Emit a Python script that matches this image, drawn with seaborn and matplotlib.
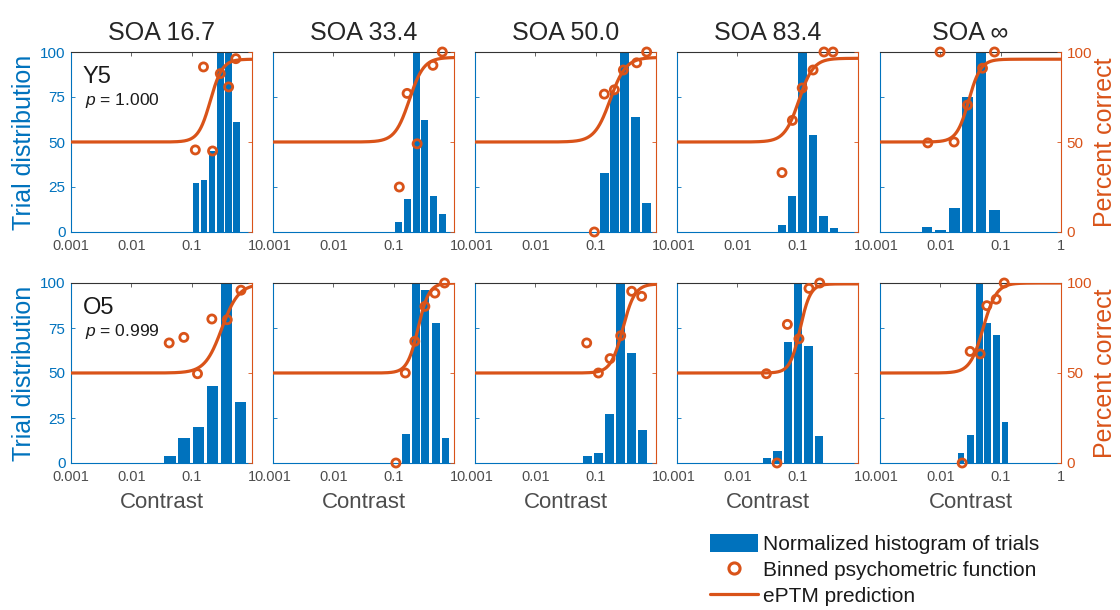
import numpy as np
import pandas as pd
import seaborn as sns
import matplotlib.pyplot as plt
from matplotlib.patches import Patch
from matplotlib.lines import Line2D
from matplotlib.ticker import NullLocator, FixedLocator, FixedFormatter

BLUE = '#0072BD'
ORANGE = '#D95319'
GREY = '#4d4d4d'

soa_titles = ['SOA 16.7', 'SOA 33.4', 'SOA 50.0', 'SOA 83.4', 'SOA \u221e']
observers = ['Y5', 'O5']
p_values = ['1.000', '0.999']
x_tick_values = [0.001, 0.01, 0.1, 1]
x_tick_labels = ['0.001', '0.01', '0.1', '1']

# normalized histogram of trials: bin centres (contrast) and heights
y5_bin_centers = [
    [0.119, 0.161, 0.219, 0.298, 0.41, 0.556],
    [0.121, 0.169, 0.235, 0.329, 0.458, 0.64],
    [0.139, 0.204, 0.303, 0.46, 0.70],
    [0.0547, 0.081, 0.12, 0.178, 0.268, 0.40],
    [0.006, 0.0101, 0.017, 0.0284, 0.0472, 0.0786],
]
y5_bin_heights = [
    [27, 29, 45, 100, 100, 61],
    [5.5, 18.6, 100, 62, 20, 10],
    [33, 77, 100, 64, 16],
    [3.7, 20, 100, 54, 8.7, 2.2],
    [2.6, 1.1, 13.5, 75, 100, 12],
]
o5_bin_centers = [
    [0.0438, 0.0747, 0.128, 0.221, 0.377, 0.644],
    [0.16, 0.233, 0.335, 0.495, 0.722],
    [0.0736, 0.111, 0.169, 0.261, 0.39, 0.597],
    [0.0308, 0.0463, 0.0687, 0.1007, 0.151, 0.226],
    [0.022, 0.0312, 0.044, 0.0613, 0.0849, 0.118],
]
o5_bin_heights = [
    [3.7, 14, 20, 43, 100, 34],
    [16, 100, 96, 78, 14],
    [4, 5.6, 27, 100, 61, 18.5],
    [2.8, 6.5, 67, 100, 65, 15],
    [5.6, 15.4, 100, 78, 71, 23],
]

# binned psychometric function (contrast, percent correct)
y5_pc_contrast = [
    [0.115, 0.157, 0.222, 0.298, 0.41, 0.54],
    [0.124, 0.167, 0.245, 0.447, 0.64],
    [0.095, 0.139, 0.204, 0.288, 0.479, 0.70],
    [0.055, 0.0817, 0.119, 0.18, 0.273, 0.385],
    [0.0062, 0.0099, 0.0169, 0.0282, 0.05, 0.079],
]
y5_pc_correct = [
    [45.6, 91.7, 45, 88, 80.6, 96.3],
    [25, 77, 49, 92.6, 100],
    [0, 76.6, 79, 90, 94, 100],
    [33, 62, 80, 90, 100, 100],
    [49.5, 100, 50, 70.5, 91, 100],
]
o5_pc_contrast = [
    [0.0424, 0.0742, 0.125, 0.216, 0.389, 0.656],
    [0.109, 0.156, 0.224, 0.329, 0.482, 0.698],
    [0.071, 0.111, 0.173, 0.26, 0.395, 0.578],
    [0.0303, 0.0454, 0.0675, 0.105, 0.154, 0.232],
    [0.023, 0.0312, 0.0457, 0.059, 0.0843, 0.1145],
]
o5_pc_correct = [
    [66.7, 69.8, 49.6, 80, 79.6, 96],
    [0, 50, 67.6, 87, 94.4, 100],
    [66.7, 50, 58, 70.7, 95.4, 92.6],
    [49.6, 0, 77, 69, 97, 100],
    [0, 62, 60.6, 87.4, 91, 100],
]

# ePTM prediction, described by threshold contrast, log-spread and upper asymptote
y5_threshold = [0.204, 0.182, 0.174, 0.105, 0.0295]
y5_spread = [0.10, 0.12, 0.13, 0.12, 0.10]
y5_top = [96, 97, 97, 96.5, 96]
o5_threshold = [0.316, 0.254, 0.282, 0.110, 0.0513]
o5_spread = [0.14, 0.09, 0.10, 0.085, 0.11]
o5_top = [99.5, 100, 99.5, 99.5, 100]

rows = [
    (y5_bin_centers, y5_bin_heights, y5_pc_contrast, y5_pc_correct,
     y5_threshold, y5_spread, y5_top),
    (o5_bin_centers, o5_bin_heights, o5_pc_contrast, o5_pc_correct,
     o5_threshold, o5_spread, o5_top),
]

sns.set_style('white')
plt.rcParams['font.family'] = ['Liberation Sans', 'DejaVu Sans']
plt.rcParams['mathtext.fontset'] = 'custom'
plt.rcParams['mathtext.it'] = 'Liberation Sans:italic'
plt.rcParams['mathtext.rm'] = 'Liberation Sans'

fig = plt.figure(figsize=(11.2, 6.1), dpi=100)
lefts = [71, 273, 475, 677, 880]
tops = [52, 283]
W, H = 181, 180
grid = np.logspace(-3, 0, 400)

for r, (centers, heights, pcx, pcy, thr, spr, top) in enumerate(rows):
    for c in range(5):
        ax = fig.add_axes([lefts[c] / 1120, 1 - (tops[r] + H) / 610, W / 1120, H / 610])
        ax.set_xscale('log')

        # bars, equal width in log space
        cen = np.array(centers[c])
        step = np.median(np.diff(np.log10(cen)))
        half = 0.4 * step
        left = cen * 10 ** (-half)
        right = cen * 10 ** half
        ax.bar(left, np.array(heights[c]), width=right - left, align='edge',
               color=BLUE, linewidth=0)

        ax.set_ylim(0, 100)
        ax.set_yticks([0, 25, 50, 75, 100])
        ax.tick_params(axis='y', direction='in', length=3, width=0.6,
                       labelsize=11, color=BLUE, labelcolor=BLUE, pad=4)
        if c != 0:
            ax.set_yticklabels([])
        else:
            ax.set_ylabel('Trial distribution', color=BLUE, fontsize=18, labelpad=3)
        for side in ['left', 'bottom']:
            ax.spines[side].set_color(BLUE)
            ax.spines[side].set_linewidth(0.8)
        ax.spines['top'].set_color('#333333')
        ax.spines['top'].set_linewidth(0.8)
        ax.spines['right'].set_visible(False)

        # psychometric data and prediction on the right axis
        ax2 = ax.twinx()
        pred = 50 + (top[c] - 50) / (1 + np.exp(-(np.log10(grid) - np.log10(thr[c])) / spr[c]))
        curve = pd.DataFrame({'contrast': grid, 'pc': pred})
        sns.lineplot(data=curve, x='contrast', y='pc', ax=ax2, color=ORANGE,
                     linewidth=2.3)
        pts = pd.DataFrame({'contrast': pcx[c], 'pc': pcy[c]})
        sns.scatterplot(data=pts, x='contrast', y='pc', ax=ax2, s=34,
                        facecolors='none', edgecolor=ORANGE, color=ORANGE,
                        linewidth=2.0, clip_on=False, zorder=5)
        ax2.set_ylim(0, 100)
        ax2.set_yticks([0, 50, 100])
        ax2.set_xlabel('')
        ax2.set_ylabel('')
        ax2.tick_params(axis='y', direction='in', length=3, width=0.6,
                        labelsize=11, color=ORANGE, labelcolor=ORANGE, pad=4)
        for side in ['left', 'bottom', 'top']:
            ax2.spines[side].set_visible(False)
        ax2.spines['right'].set_color(ORANGE)
        ax2.spines['right'].set_linewidth(0.8)
        if c != 4:
            ax2.set_yticklabels([])
        else:
            ax2.set_ylabel('Percent correct', color=ORANGE, fontsize=18, labelpad=1)

        # x axis (shared), set last so nothing resets it
        ax.set_xlim(0.001, 1)
        ax.xaxis.set_major_locator(FixedLocator(x_tick_values))
        ax.xaxis.set_major_formatter(FixedFormatter(x_tick_labels))
        ax.xaxis.set_minor_locator(NullLocator())
        ax.tick_params(axis='x', direction='in', top=True, length=3, width=0.6,
                       labelsize=10.5, labelcolor=GREY, color=GREY, pad=5)

        if r == 0:
            ax.set_title(soa_titles[c], fontsize=18, pad=9)
        if r == 1:
            ax.set_xlabel('Contrast', color=GREY, fontsize=16, labelpad=6)
        if c == 0:
            ax.text(0.065, 0.86, observers[r], transform=ax.transAxes,
                    fontsize=17, va='center', ha='left', color='#1a1a1a')
            ax.text(0.075, 0.73, '$p$ = ' + p_values[r], transform=ax.transAxes,
                    fontsize=12.5, va='center', ha='left', color='#1a1a1a')

handles = [
    Patch(facecolor=BLUE, edgecolor='none'),
    Line2D([], [], marker='o', linestyle='none', markerfacecolor='none',
           markeredgecolor=ORANGE, markeredgewidth=2.2, markersize=8),
    Line2D([], [], color=ORANGE, linewidth=2.3),
]
labels = ['Normalized histogram of trials', 'Binned psychometric function',
          'ePTM prediction']
fig.legend(handles, labels, loc='upper left',
           bbox_to_anchor=(702 / 1120, 1 - 526 / 610), frameon=False,
           fontsize=15, handlelength=2.3, handleheight=0.9,
           labelspacing=0.3, handletextpad=0.25, borderaxespad=0,
           labelcolor='#1a1a1a')

fig.savefig('out.png', dpi=100)
